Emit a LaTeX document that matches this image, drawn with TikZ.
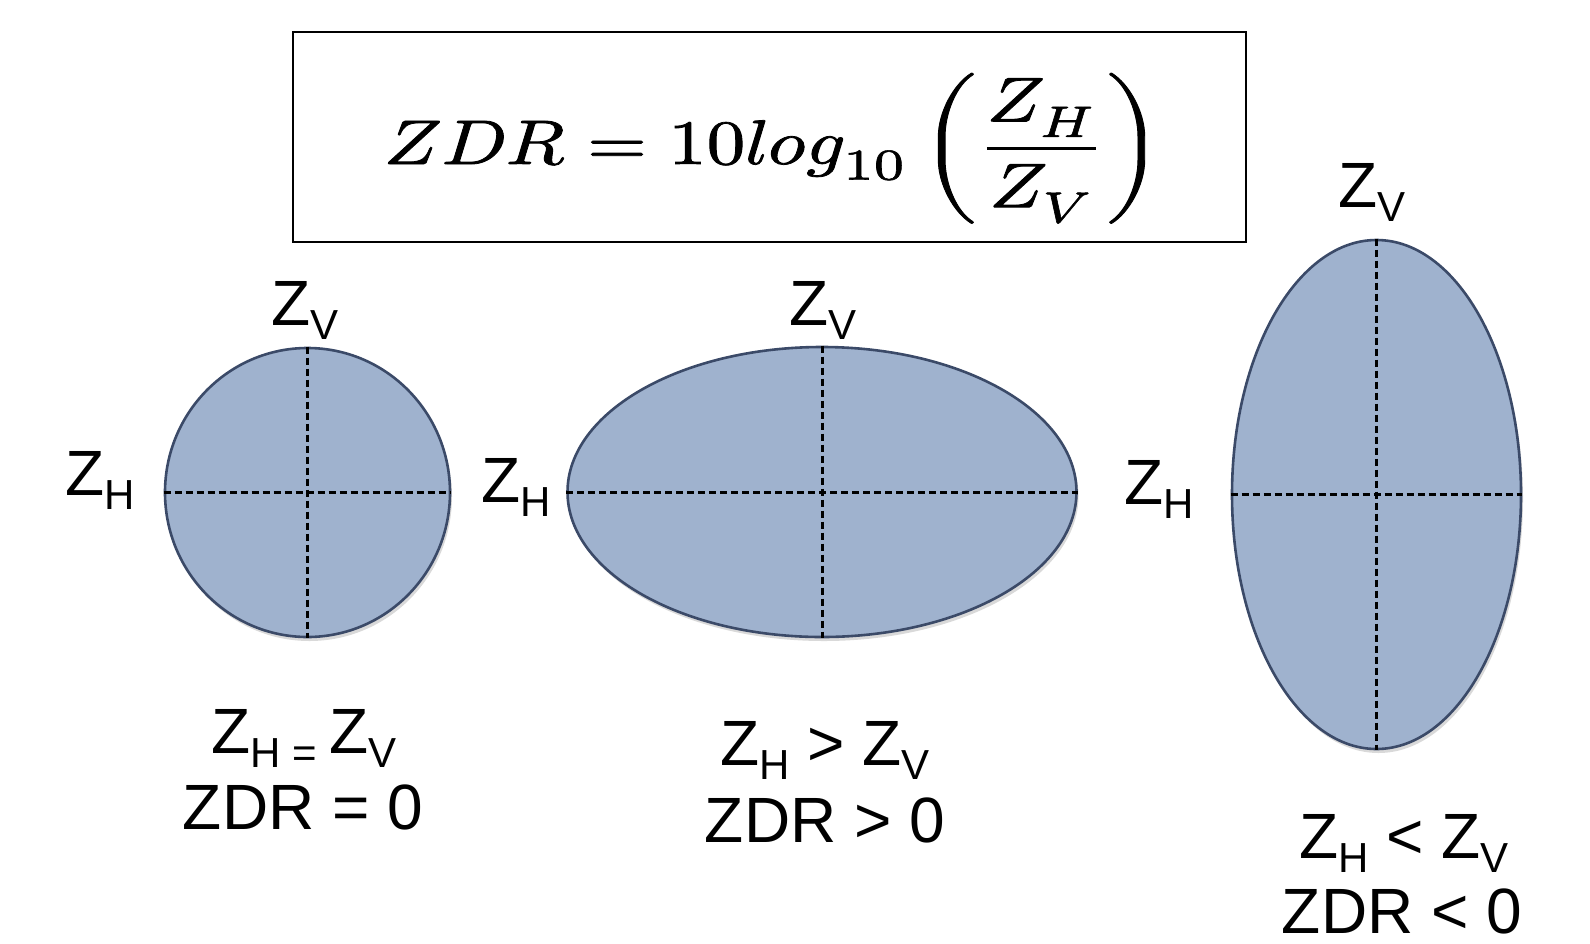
\documentclass[tikz,border=0pt]{standalone}
\usepackage{fontspec}
\usepackage{unicode-math}
\setmainfont{Liberation Sans}
\setmathfont{Latin Modern Math}[FakeBold=1.2]
\usetikzlibrary{shapes.geometric,shadows}
\definecolor{dropfill}{HTML}{9FB2CE}
\definecolor{dropedge}{HTML}{3B4A68}
\newcommand{\lbsub}[1]{\raisebox{-14pt}{\fontsize{42}{42}\selectfont #1}}
\tikzset{
  drop/.style={ellipse, draw=dropedge, line width=2.6pt, fill=dropfill, inner sep=0pt,
    drop shadow={opacity=0.25, shadow xshift=2pt, shadow yshift=-4pt, fill=black!60}},
  axis/.style={line width=3pt, dash pattern=on 7pt off 4pt, black},
  lbl/.style={font=\fontsize{64}{64}\selectfont, inner sep=0pt, anchor=base, text depth=0pt},
  formulabox/.style={draw=black, line width=1.5pt}
}
\begin{document}
\begin{tikzpicture}[x=1pt,y=-1pt]
\useasboundingbox (0,0) rectangle (1590,943);
% formula box
\draw[formulabox] (293,32) rectangle (1246,242);
\node[inner sep=0pt, anchor=base] (formula) at (773,164)
  {\resizebox{778pt}{91pt}{$\displaystyle ZDR = 10log_{10}\left(\frac{Z_H}{Z_V}\right)$}};
% shapes
\node[drop, minimum width=285pt, minimum height=289pt] (c1) at (307.5,492.5) {};
\node[drop, minimum width=509pt, minimum height=290pt] (c2) at (822,492) {};
\node[drop, minimum width=289pt, minimum height=509pt] (c3) at (1376.5,494.5) {};
\foreach \n in {c1,c2,c3}{
  \draw[axis] (\n.west) -- (\n.east);
  \draw[axis] (\n.north) -- (\n.south);
}
% axis labels
\node[lbl] (v1) at (305,325) {Z\lbsub{V}};
\node[lbl] (h1) at (100,495) {Z\lbsub{H}};
\node[lbl] (v2) at (823,325) {Z\lbsub{V}};
\node[lbl] (h2) at (516,502) {Z\lbsub{H}};
\node[lbl] (v3) at (1372,207) {Z\lbsub{V}};
\node[lbl] (h3) at (1159,504) {Z\lbsub{H}};
% relation labels
\node[lbl] (r1) at (304,753) {Z\lbsub{H = }Z\lbsub{V}};
\node[lbl] (d1) at (303,829) {ZDR = 0};
\node[lbl] (r2) at (825,765) {Z\lbsub{H} > Z\lbsub{V}};
\node[lbl] (d2) at (825,842) {ZDR > 0};
\node[lbl] (r3) at (1404,858) {Z\lbsub{H} < Z\lbsub{V}};
\node[lbl] (d3) at (1402,933) {ZDR < 0};
\end{tikzpicture}
\end{document}
